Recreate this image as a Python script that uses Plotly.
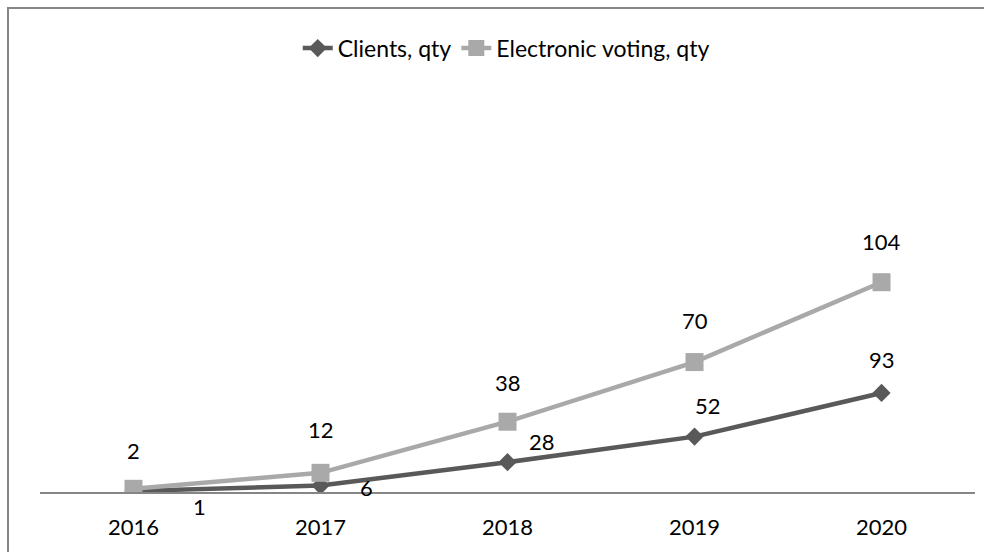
import plotly.graph_objects as go

# Yearly counts (stacked line chart: second series sits on top of the first)
years = ["2016", "2017", "2018", "2019", "2020"]
clients = [1, 6, 28, 52, 93]
evoting = [2, 12, 38, 70, 104]

series_names = ["Clients, qty", "Electronic voting, qty"]

# label offsets in pixels (xshift, yshift) for each point
client_label_shift = [(66, -16), (46, -2), (34, 21), (13, 31), (0, 33)]
evote_label_shift = [(0, 38), (0, 43), (0, 39), (0, 42), (0, 41)]

FONT = "Lato"
DARK = "#595959"
LIGHT = "#a9a9a9"
FRAME = "#868686"

fig = go.Figure()
fig.add_trace(go.Scatter(
    x=years, y=clients, name=series_names[0], stackgroup="s", fill="none",
    mode="lines+markers",
    line=dict(color=DARK, width=4.5),
    marker=dict(symbol="diamond", size=14, color=DARK),
    hoverinfo="skip",
))
fig.add_trace(go.Scatter(
    x=years, y=evoting, name=series_names[1], stackgroup="s", fill="none",
    mode="lines+markers",
    line=dict(color=LIGHT, width=4.5),
    marker=dict(symbol="square", size=18, color=LIGHT),
    hoverinfo="skip",
))
# empty trace that hosts the full-paper frame axes (x2/y2)
fig.add_trace(go.Scatter(x=[], y=[], xaxis="x2", yaxis="y2",
                         showlegend=False, hoverinfo="skip"))

# value labels on the stacked points; category axis positions are indices
stacked_top = [c + e for c, e in zip(clients, evoting)]
for i, (v, (dx, dy)) in enumerate(zip(clients, client_label_shift)):
    fig.add_annotation(x=i, y=v, xref="x", yref="y", text=str(v),
                       showarrow=False, xshift=dx, yshift=dy,
                       font=dict(family=FONT, size=22, color="black"))
for i, (v, top, (dx, dy)) in enumerate(zip(evoting, stacked_top,
                                            evote_label_shift)):
    fig.add_annotation(x=i, y=top, xref="x", yref="y", text=str(v),
                       showarrow=False, xshift=dx, yshift=dy,
                       font=dict(family=FONT, size=22, color="black"))

frame_axis = dict(showline=True, linecolor=FRAME, linewidth=2,
                  showticklabels=False, showgrid=False, zeroline=False,
                  ticks="", domain=[0, 1], fixedrange=True)

fig.update_layout(
    width=984, height=552,
    margin=dict(l=9, r=0, t=9, b=0, pad=0),
    paper_bgcolor="white", plot_bgcolor="rgba(0,0,0,0)",
    font=dict(family=FONT, size=22, color="black"),
    hovermode=False,
    showlegend=True,
    legend=dict(orientation="h", x=0.51, xanchor="center", y=0.928,
                yanchor="middle", font=dict(family=FONT, size=23),
                traceorder="normal"),
    xaxis=dict(type="category", range=[-0.5, 4.5], domain=[0.0318, 0.9908],
               showgrid=False, showline=True, linecolor=FRAME, linewidth=2,
               ticks="", zeroline=False, ticklabelstandoff=15,
               tickfont=dict(family=FONT, size=22)),
    yaxis=dict(range=[0, 400], domain=[0.1105, 0.895],
               showticklabels=False, showline=False,
               showgrid=False, zeroline=False, ticks=""),
    xaxis2=dict(frame_axis, anchor="y2", side="top", range=[0, 1]),
    yaxis2=dict(frame_axis, anchor="x2", side="left", range=[0, 1]),
)

fig.write_html("out.html")
